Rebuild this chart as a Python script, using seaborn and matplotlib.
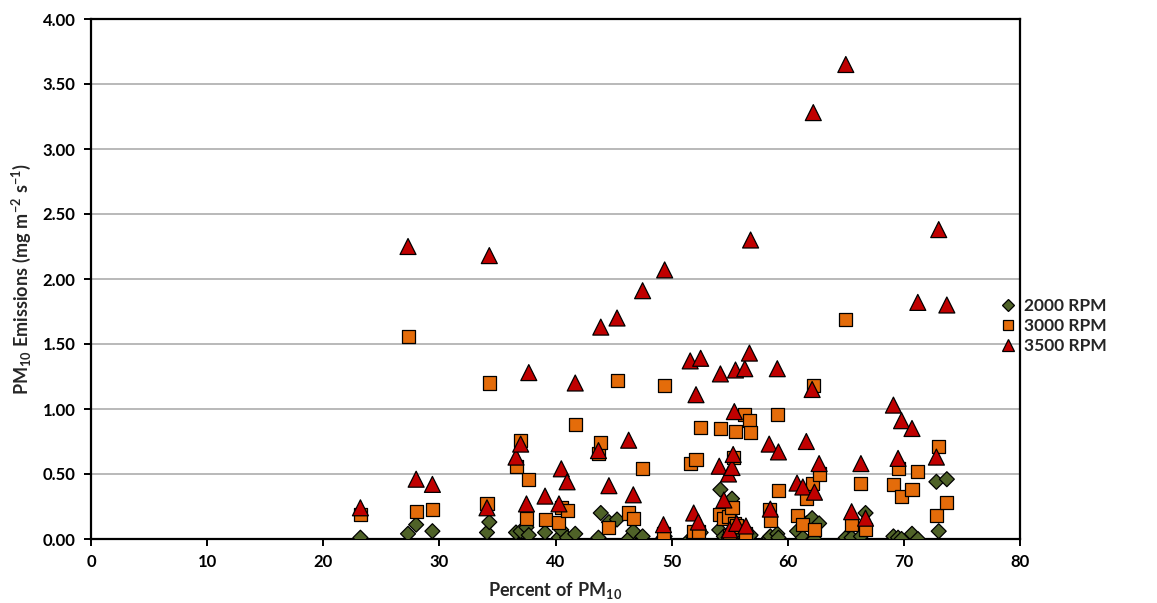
import matplotlib
matplotlib.use("Agg")
import matplotlib.pyplot as plt
import pandas as pd
import seaborn as sns
from matplotlib.lines import Line2D

# Percent of PM10 in each soil sample and its emission rate at three engine speeds
pct_pm10 = [23.2, 27.3, 28.0, 29.4, 34.1, 34.3, 36.6, 37.0, 37.5, 37.7,
            39.1, 40.3, 40.5, 41.0, 41.7, 43.7, 43.9, 44.6, 45.3, 46.3,
            46.7, 47.5, 49.3, 49.4, 51.6, 51.9, 52.1, 52.3, 52.5, 54.2,
            54.1, 54.5, 54.9, 55.0, 55.2, 55.3, 55.4, 55.5, 55.6, 56.3,
            56.4, 56.7, 56.8, 58.4, 58.5, 59.1, 59.2, 60.8, 61.3, 61.6,
            62.1, 62.2, 62.3, 62.7, 65.0, 65.5, 66.3, 66.7, 69.1, 69.5,
            69.8, 70.7, 71.2, 72.8, 73.0, 73.7]

rpm_2000 = [0.01, 0.04, 0.11, 0.06, 0.05, 0.13, 0.05, 0.06, 0.09, 0.03,
            0.05, 0.01, 0.07, 0.01, 0.04, 0.01, 0.20, 0.13, 0.15, 0.00,
            0.06, 0.02, 0.01, 0.02, 0.00, 0.01, 0.02, 0.03, 0.05, 0.38,
            0.07, 0.02, 0.01, 0.03, 0.31, 0.01, 0.03, 0.02, 0.02, 0.01,
            0.00, 0.02, 0.03, 0.01, 0.02, 0.04, 0.01, 0.06, 0.01, 0.12,
            0.16, 0.00, 0.00, 0.12, 0.01, 0.01, 0.02, 0.20, 0.02, 0.01,
            0.00, 0.04, 0.00, 0.44, 0.06, 0.46]

rpm_3000 = [0.19, 1.56, 0.21, 0.23, 0.27, 1.20, 0.56, 0.76, 0.16, 0.46,
            0.15, 0.13, 0.24, 0.22, 0.88, 0.66, 0.74, 0.09, 1.22, 0.20,
            0.16, 0.54, 0.04, 1.18, 0.58, 0.06, 0.61, 0.06, 0.86, 0.85,
            0.19, 0.16, 0.17, 0.03, 0.24, 0.63, 0.12, 0.83, 0.10, 0.96,
            0.04, 0.91, 0.82, 0.23, 0.14, 0.96, 0.37, 0.18, 0.11, 0.31,
            0.43, 1.18, 0.07, 0.50, 1.69, 0.11, 0.43, 0.07, 0.42, 0.54,
            0.33, 0.38, 0.52, 0.18, 0.71, 0.28]

rpm_3500 = [0.24, 2.25, 0.46, 0.42, 0.24, 2.18, 0.63, 0.73, 0.27, 1.28,
            0.33, 0.27, 0.54, 0.44, 1.20, 0.68, 1.63, 0.41, 1.70, 0.76,
            0.34, 1.91, 0.11, 2.07, 1.37, 0.20, 1.11, 0.13, 1.39, 1.27,
            0.56, 0.30, 0.50, 0.07, 0.55, 0.65, 0.98, 1.30, 0.12, 1.31,
            0.10, 1.43, 2.30, 0.73, 0.23, 1.31, 0.67, 0.43, 0.40, 0.75,
            1.15, 3.28, 0.36, 0.58, 3.65, 0.21, 0.58, 0.16, 1.03, 0.62,
            0.91, 0.85, 1.82, 0.63, 2.38, 1.80]

series_labels = ["2000 RPM", "3000 RPM", "3500 RPM"]
x_ticks = [0, 10, 20, 30, 40, 50, 60, 70, 80]
y_ticks = [0.0, 0.5, 1.0, 1.5, 2.0, 2.5, 3.0, 3.5, 4.0]

colors = {"2000 RPM": "#4f6228", "3000 RPM": "#e46c0a", "3500 RPM": "#c00000"}
markers = {"2000 RPM": "D", "3000 RPM": "s", "3500 RPM": "^"}
sizes = {"2000 RPM": 58, "3000 RPM": 88, "3500 RPM": 132}

n = len(pct_pm10)
df = pd.DataFrame({
    "pct": pct_pm10 * 3,
    "emission": rpm_2000 + rpm_3000 + rpm_3500,
    "series": [series_labels[0]] * n + [series_labels[1]] * n + [series_labels[2]] * n,
})

sns.set_theme(style="white")
plt.rcParams["font.family"] = ["Lato", "DejaVu Sans"]
plt.rcParams["font.weight"] = "bold"
plt.rcParams["axes.labelweight"] = "bold"
plt.rcParams["mathtext.fontset"] = "custom"
plt.rcParams["mathtext.rm"] = "Lato:bold"
plt.rcParams["mathtext.it"] = "Lato:bold"
plt.rcParams["mathtext.bf"] = "Lato:bold"
plt.rcParams["mathtext.default"] = "bf"

fig = plt.figure(figsize=(11.57, 6.03), dpi=100)
ax = fig.add_axes([91 / 1157, 1 - 539 / 603, (1020 - 91) / 1157, (539 - 19) / 603])

sns.scatterplot(data=df, x="pct", y="emission", hue="series", style="series",
                size="series", palette=colors, markers=markers, sizes=sizes,
                edgecolor="black", linewidth=0.9, legend=False, ax=ax, zorder=3)

ax.set_xlim(0, 80)
ax.set_ylim(0, 4.0)
ax.set_xticks(x_ticks)
ax.set_yticks(y_ticks)
ax.set_yticklabels([f"{v:.2f}" for v in y_ticks])
ax.set_xticklabels([str(v) for v in x_ticks])

ax.yaxis.grid(True, color="#a6a6a6", linewidth=1.1)
ax.xaxis.grid(False)
ax.set_axisbelow(True)

for side in ["left", "right", "top", "bottom"]:
    ax.spines[side].set_visible(True)
    ax.spines[side].set_color("black")
    ax.spines[side].set_linewidth(1.6)

ax.tick_params(axis="both", which="major", direction="out", length=5, width=1.4,
               bottom=True, left=True, labelsize=12, colors="black", pad=6)
for lab in ax.get_xticklabels() + ax.get_yticklabels():
    lab.set_fontweight("bold")

ax.set_xlabel(r"$\mathbf{Percent\ of\ PM_{10}}$", fontsize=13, labelpad=7)
ax.set_ylabel(r"$\mathbf{PM_{10}\ Emissions\ (mg\ m^{-2}\ s^{-1})}$", fontsize=13,
              labelpad=7)

handles = [
    Line2D([], [], linestyle="", marker=markers[s], markerfacecolor=colors[s],
           markeredgecolor="black", markeredgewidth=0.9,
           markersize=sizes[s] ** 0.5 * 0.75, label=s)
    for s in series_labels
]
fig.legend(handles=handles, loc="center left",
           bbox_to_anchor=(992 / 1157, 1 - 326 / 603), frameon=False,
           prop={"weight": "bold", "size": 12.5}, handlelength=0.8,
           handletextpad=0.55, labelspacing=0.25, borderpad=0)

fig.savefig("out.png", dpi=100)
